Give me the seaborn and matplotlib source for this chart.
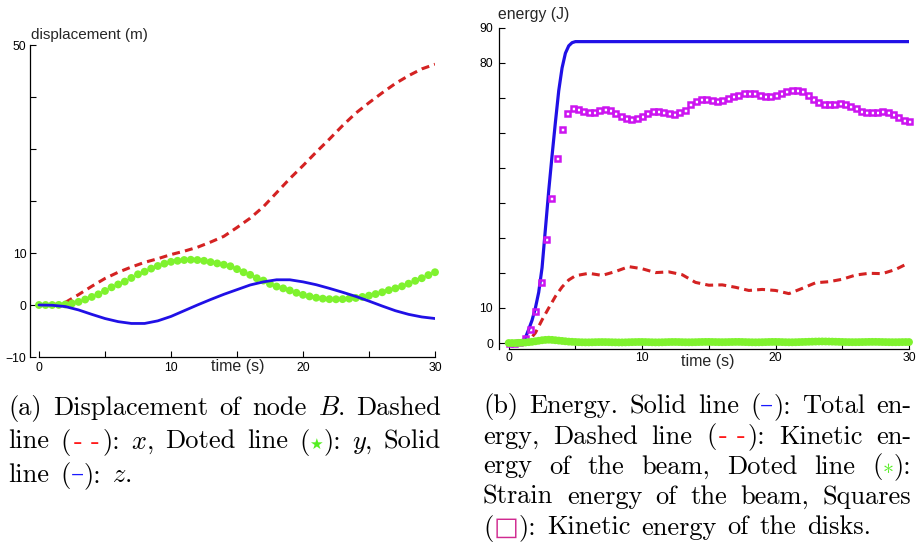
import numpy as np
import pandas as pd
import matplotlib
matplotlib.use("Agg")
import matplotlib.pyplot as plt
import seaborn as sns
from matplotlib.ticker import FixedLocator, FixedFormatter
from matplotlib.transforms import IdentityTransform

# ---------------- data: (a) displacement of node B ----------------
disp_time = np.arange(0, 31, 1.0)
disp_x = [0, 0, 0.5, 2.0, 3.6, 5.1, 6.3, 7.3, 8.2, 8.9, 9.7, 10.35, 11.1, 12.1, 13.2,
          14.9, 16.7, 18.9, 21.6, 24.3, 26.8, 29.4, 31.9, 34.5, 36.9, 38.9, 40.8,
          42.6, 44.1, 45.4, 46.3]
disp_z = [0, -0.05, -0.3, -0.95, -1.8, -2.6, -3.2, -3.55, -3.55, -3.05, -2.2, -1.1,
          0.0, 1.05, 2.05, 2.95, 3.85, 4.45, 4.85, 4.85, 4.45, 3.9, 3.2, 2.45, 1.65,
          0.75, -0.2, -1.1, -1.8, -2.3, -2.6]
disp_time_y = np.arange(0, 30.01, 0.5)
disp_y = [0, 0, 0, 0.02, 0.1, 0.3, 0.6, 1.05, 1.55, 2.05,
          2.7, 3.4, 3.95, 4.5, 5.2, 5.9, 6.4, 7.0, 7.5, 7.95,
          8.3, 8.5, 8.65, 8.7, 8.65, 8.5, 8.25, 8.0, 7.75, 7.45,
          6.9, 6.3, 5.8, 5.15, 4.7, 4.05, 3.55, 3.2, 2.8, 2.35,
          1.95, 1.65, 1.4, 1.22, 1.12, 1.1, 1.13, 1.22, 1.35, 1.55,
          1.8, 2.1, 2.45, 2.85, 3.2, 3.6, 4.1, 4.65, 5.15, 5.75,
          6.3]

# ---------------- data: (b) energy ----------------
total_time = [0, 0.5, 1.0, 1.25, 1.5, 1.75, 2.0, 2.25, 2.5, 2.75, 3.0, 3.25, 3.5, 3.75,
              4.0, 4.25, 4.5, 4.75, 5.0, 10, 15, 20, 25, 30]
total_energy = [0, 0, 0.4, 1.5, 3.9, 6.5, 10, 14.5, 21.5, 32.5, 43.5, 53.5, 63, 72,
                78.5, 82.7, 84.8, 85.7, 86, 86, 86, 86, 86, 86]
beam_time = [0, 1, 1.5, 2, 2.5, 3, 3.5, 4, 4.5, 5, 6, 7, 8, 9, 10, 11, 12, 13, 14, 15,
             16, 17, 18, 19, 20, 21, 22, 23, 24, 25, 26, 27, 28, 29, 30]
beam_kinetic = [0, 0, 0.6, 2.9, 6.6, 10.0, 13.3, 16.0, 18.0, 19.2, 19.9, 19.3, 20.4,
                21.8, 21.2, 20.1, 20.3, 19.5, 17.3, 16.5, 16.6, 15.9, 15.0, 15.3, 15.0,
                14.1, 15.6, 17.2, 17.5, 18.2, 19.4, 19.9, 19.8, 21.0, 22.9]
strain_time = np.arange(0, 30.01, 0.25)
beam_strain = [0, 0, 0, 0.05, 0.1, 0.15, 0.25, 0.35, 0.5, 0.65, 0.8, 0.9, 0.95, 0.9,
               0.8, 0.7, 0.6, 0.5, 0.4, 0.35, 0.3,
               0.25, 0.22, 0.2, 0.2, 0.22, 0.25, 0.27, 0.28, 0.27, 0.25,
               0.22, 0.2, 0.18, 0.18, 0.2, 0.23, 0.26, 0.28, 0.3, 0.3,
               0.28, 0.25, 0.22, 0.2, 0.2, 0.22, 0.25, 0.28, 0.3, 0.3,
               0.28, 0.25, 0.23, 0.22, 0.23, 0.25, 0.28, 0.3, 0.32, 0.32,
               0.3, 0.28, 0.26, 0.25, 0.26, 0.28, 0.3, 0.32, 0.32, 0.3,
               0.27, 0.24, 0.22, 0.21, 0.22, 0.24, 0.27, 0.3, 0.32, 0.32,
               0.3, 0.27, 0.24, 0.22, 0.22, 0.24, 0.27, 0.3, 0.33, 0.36,
               0.39, 0.42, 0.44, 0.45, 0.44, 0.42, 0.4, 0.37, 0.34, 0.31,
               0.28, 0.26, 0.25, 0.25, 0.26, 0.28, 0.3, 0.32, 0.33, 0.33,
               0.31, 0.29, 0.27, 0.25, 0.24, 0.24, 0.25, 0.27, 0.28, 0.28]
disks_time = np.arange(0, 30.01, 0.4)
disks_kinetic = [0, 0.1, 0.4, 1.5, 4.0, 9.0, 17.3, 29.7, 41.5, 52.9, 61.0, 65.7, 67.0,
                 66.8, 66.2, 65.8, 65.9, 66.4, 66.8, 66.5, 65.6, 64.8, 64.3, 64.0, 64.1,
                 64.8, 65.6, 66.1, 66.1, 65.9, 65.6, 65.4, 65.8, 66.6, 68.2, 69.0, 69.5,
                 69.6, 69.4, 69.2, 69.3, 69.8, 70.4, 70.8, 71.2, 71.3, 71.2, 70.7, 70.4,
                 70.5, 70.9, 71.3, 71.8, 72.2, 72.3, 71.8, 70.8, 69.6, 68.8, 68.2, 68.1,
                 68.3, 68.5, 68.3, 67.7, 67.0, 66.3, 65.8, 65.8, 66.0, 66.1, 66.0, 65.3,
                 64.4, 63.7, 63.3]

# ---------------- ticks / texts ----------------
time_ticks = [0, 5, 10, 15, 20, 25, 30]
time_tick_labels = ["0", "", "10", "", "20", "", "30"]
disp_ticks = [-10, 0, 10, 20, 30, 40, 50]
disp_tick_labels = ["\u221210", "0", "10", "", "", "", "50"]
energy_ticks = [0, 10, 20, 30, 40, 50, 60, 70, 80, 90]
energy_tick_labels = ["0", "10", "", "", "", "", "", "", "80", "90"]

# ---------------- style ----------------
sns.set_style("ticks")
plt.rcParams["font.family"] = ["Liberation Sans", "DejaVu Sans"]
plt.rcParams["mathtext.fontset"] = "cm"
plt.rcParams["axes.unicode_minus"] = True

BLUE = "#2010e6"
RED = "#d42222"
GREEN = "#7ff22e"
MAG = "#cc14f0"

W, H = 917, 551
fig = plt.figure(figsize=(W / 100, H / 100), dpi=100)
fig.patch.set_facecolor("white")


def add_axes_px(l, t, r, b):
    return fig.add_axes([l / W, 1 - b / H, (r - l) / W, (b - t) / H])


ax1 = add_axes_px(30, 45, 435, 357)
ax2 = add_axes_px(499, 27.6, 909, 349)


def style_axes(ax, xlim, ylim, yt, ytl, xpad, ypad):
    ax.set_xlim(*xlim)
    ax.set_ylim(*ylim)
    ax.set_facecolor("white")
    ax.grid(False)
    for s in ["top", "right"]:
        ax.spines[s].set_visible(False)
    for s in ["left", "bottom"]:
        ax.spines[s].set_color("black")
        ax.spines[s].set_linewidth(0.9)
    ax.spines["bottom"].set_bounds(0, 30)
    ax.xaxis.set_major_locator(FixedLocator(time_ticks))
    ax.xaxis.set_major_formatter(FixedFormatter(time_tick_labels))
    ax.yaxis.set_major_locator(FixedLocator(yt))
    ax.yaxis.set_major_formatter(FixedFormatter(ytl))
    ax.tick_params(axis="both", direction="in", length=4, width=0.8,
                   colors="black", labelsize=8.8)
    ax.tick_params(axis="x", pad=xpad)
    ax.tick_params(axis="y", pad=ypad)
    ax.set_ylabel("")


# ---- (a) displacement
sns.lineplot(x=disp_time, y=disp_x, ax=ax1, color=RED, lw=2.2,
             linestyle=(0, (2.6, 1.7)), errorbar=None, zorder=2)
sns.scatterplot(x=disp_time_y, y=disp_y, ax=ax1, color=GREEN, s=32,
                edgecolor="none", linewidth=0, zorder=3, clip_on=False)
sns.lineplot(x=disp_time, y=disp_z, ax=ax1, color=BLUE, lw=2.0,
             errorbar=None, zorder=4)
style_axes(ax1, (-0.68, 30), (-10, 50), disp_ticks, disp_tick_labels, 3.3, 2.5)
ax1.set_xlabel("time (s)", fontsize=11.5)
ax1.xaxis.label.set_va("center")
ax1.xaxis.set_label_coords(0.512, -0.032)

# ---- (b) energy
sns.lineplot(x=total_time, y=total_energy, ax=ax2, color=BLUE, lw=2.3,
             errorbar=None, zorder=2)
sns.lineplot(x=beam_time, y=beam_kinetic, ax=ax2, color=RED, lw=2.2,
             linestyle=(0, (2.6, 1.7)), errorbar=None, zorder=3)
sns.lineplot(x=disks_time, y=disks_kinetic, ax=ax2, color=MAG, marker="s",
             linestyle="none", markerfacecolor="none", markeredgecolor=MAG,
             markersize=3.6, markeredgewidth=1.8, errorbar=None, zorder=4,
             clip_on=False)
sns.scatterplot(x=strain_time, y=beam_strain, ax=ax2, color=GREEN, s=32,
                edgecolor="none", linewidth=0, zorder=5, clip_on=False)
style_axes(ax2, (-0.727, 30), (-1.7, 90), energy_ticks, energy_tick_labels, 2.2, 4.3)
ax2.set_xlabel("time (s)", fontsize=11.5)
ax2.xaxis.label.set_va("center")
ax2.xaxis.set_label_coords(0.51, -0.040)

# axis titles
fig.text(31 / W, 1 - 39.5 / H, "displacement (m)", fontsize=11, ha="left", va="baseline")
fig.text(498 / W, 1 - 19.5 / H, "energy (J)", fontsize=11.3, ha="left", va="baseline")

# ---------------- captions (justified) ----------------
CM = "cmr10"
K = "black"
CRED = "#ff1a1a"
CGREEN = "#55ee22"
CBLUE = "#1a1aff"
CMAG = "#d02a90"
CAP = 19


def w(s):
    return [(s, K, CM, CAP)]


renderer = fig.canvas.get_renderer()


def place_line(tokens, x0, x1, y_base, justify=True, space=11.0):
    placed = []
    widths = []
    for tok in tokens:
        segs = []
        cur = 0.0
        for seg in tok:
            if seg[0] is None:
                cur += seg[1]
                continue
            s, c, fam, size = seg
            t = fig.text(0, 0, s, color=c, family=fam, fontsize=size,
                         transform=IdentityTransform(), ha="left", va="baseline")
            bw = t.get_window_extent(renderer).width
            segs.append((t, cur))
            cur += bw
        placed.append(segs)
        widths.append(cur)
    n = len(tokens)
    if justify and n > 1:
        gap = (x1 - x0 - sum(widths)) / (n - 1)
    else:
        gap = space
    x = x0
    for segs, wd in zip(placed, widths):
        for t, off in segs:
            t.set_position((x + off, H - y_base))
        x += wd + gap


dash_red = [("(", K, CM, CAP), (None, 2.5), ("-", CRED, CM, CAP), (None, 9),
            ("-", CRED, CM, CAP), (None, 2.5), ("):", K, CM, CAP)]
dash_blue = [("(", K, CM, CAP), ("\u2013", CBLUE, "DejaVu Serif", 19), ("):", K, CM, CAP)]
star_green = [("(", K, CM, CAP), ("\u2605", CGREEN, "DejaVu Sans", 11), ("):", K, CM, CAP)]
ast_green = [("(", K, CM, CAP), (r"$\ast$", CGREEN, CM, 16), ("):", K, CM, CAP)]
box_mag = [("(", K, CM, CAP), ("\u25a1", CMAG, "DejaVu Sans", 19), ("):", K, CM, CAP)]

cap_a = [
    [w("(a)"), w("Displacement"), w("of"), w("node"), w("$B$."), w("Dashed")],
    [w("line"), dash_red, w("$x$,"), w("Doted"), w("line"), star_green, w("$y$,"), w("Solid")],
    [w("line"), dash_blue, w("$z$.")],
]
cap_a_y = [415, 448.5, 482]
for i, line in enumerate(cap_a):
    place_line(line, 8.3, 441, cap_a_y[i], justify=(i < len(cap_a) - 1))

cap_b = [
    [w("(b)"), w("Energy."), w("Solid"), w("line"), dash_blue, w("Total"), w("en-")],
    [w("ergy,"), w("Dashed"), w("line"), dash_red, w("Kinetic"), w("en-")],
    [w("ergy"), w("of"), w("the"), w("beam,"), w("Doted"), w("line"), ast_green],
    [w("Strain"), w("energy"), w("of"), w("the"), w("beam,"), w("Squares")],
    [box_mag, w("Kinetic"), w("energy"), w("of"), w("the"), w("disks.")],
]
cap_b_y = [413, 443.5, 473.5, 504, 534.5]
for i, line in enumerate(cap_b):
    place_line(line, 483, 911.5, cap_b_y[i], justify=(i < len(cap_b) - 1))

fig.savefig("out.png", dpi=100, facecolor="white")
